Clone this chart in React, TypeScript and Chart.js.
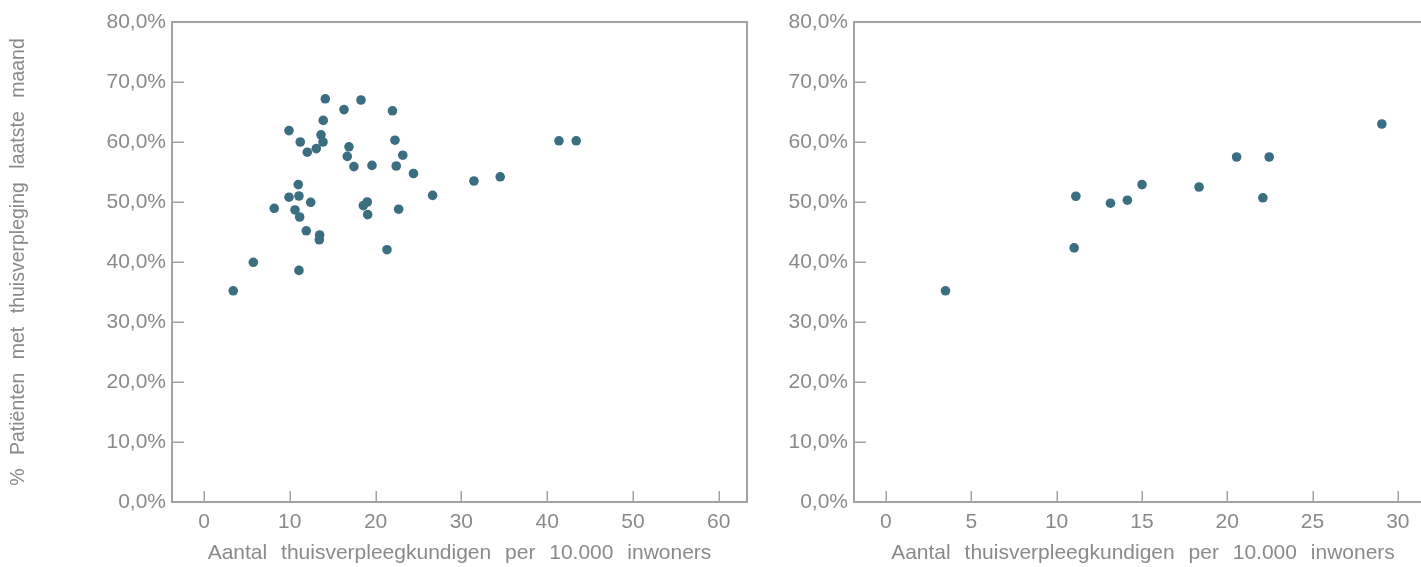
import React, { useEffect, useRef } from "react";
import { Chart, registerables } from "chart.js";

Chart.register(...registerables);

// Left panel: all points
const leftX = [14.14, 18.3, 16.32, 21.97, 13.9, 9.91, 13.64, 11.22, 13.87, 22.26, 12.04, 13.09, 16.9, 16.7, 23.17, 17.48, 19.58, 22.41, 24.42, 10.99, 9.91, 11.07, 12.44, 8.19, 10.61, 11.15, 18.57, 19.03, 19.08, 22.69, 26.65, 11.92, 13.48, 13.44, 21.33, 5.75, 11.07, 3.41, 31.47, 34.53, 41.38, 43.39];
const leftY = [67.2, 67.0, 65.4, 65.2, 63.6, 61.9, 61.2, 60.0, 60.0, 60.3, 58.3, 58.9, 59.2, 57.6, 57.8, 55.9, 56.1, 56.0, 54.75, 52.9, 50.8, 51.0, 49.95, 48.95, 48.67, 47.5, 49.4, 50.0, 47.9, 48.8, 51.1, 45.2, 44.5, 43.7, 42.05, 39.95, 38.6, 35.2, 53.5, 54.2, 60.2, 60.2];

// Right panel
const rightX = [3.49, 11.03, 11.13, 13.16, 14.15, 15.01, 18.35, 20.55, 22.46, 22.09, 29.06];
const rightY = [35.2, 42.35, 50.96, 49.8, 50.3, 52.9, 52.5, 57.5, 57.5, 50.7, 63.0];

const xTicksLeft = [0, 10, 20, 30, 40, 50, 60];
const xTicksRight = [0, 5, 10, 15, 20, 25, 30];
const yTicks = [0, 10, 20, 30, 40, 50, 60, 70, 80];

const xTitle = "Aantal thuisverpleegkundigen per 10.000 inwoners";
const yTitle = "% Patiënten met thuisverpleging laatste maand";

const POINT = "#3b6e81";
const AXIS = "#a3a3a3";
const TEXT = "#8a8a8a";
const FONT = "'Liberation Sans', Arial, sans-serif";

const framePlugin = {
  id: "frame",
  beforeDraw(chart: any) {
    // wider gaps between words, as in the original typesetting
    (chart.ctx as any).wordSpacing = "8px";
  },
  afterDraw(chart: any) {
    const { ctx, chartArea, scales } = chart;
    const { left, right, top, bottom } = chartArea;
    const x = scales.x;
    const y = scales.y;
    ctx.save();
    ctx.strokeStyle = AXIS;
    ctx.lineWidth = 2;
    ctx.beginPath();
    ctx.moveTo(left, top);
    ctx.lineTo(right, top);
    ctx.lineTo(right, bottom);
    ctx.stroke();
    ctx.lineWidth = 1.5;
    ctx.beginPath();
    x.ticks.forEach((t: any) => {
      const px = Math.round(x.getPixelForValue(t.value)) + 0.25;
      ctx.moveTo(px, bottom);
      ctx.lineTo(px, bottom - 11);
    });
    y.ticks.forEach((t: any) => {
      const py = Math.round(y.getPixelForValue(t.value)) + 0.25;
      ctx.moveTo(left, py);
      ctx.lineTo(left + 12, py);
    });
    ctx.stroke();
    ctx.restore();
  },
};

function makeConfig(
  xs: number[],
  ys: number[],
  xTicks: number[],
  xMin: number,
  xMax: number,
  yWidth: number,
  showYTitle: boolean,
  padRight: number
): any {
  return {
    type: "scatter",
    data: {
      datasets: [
        {
          data: xs.map((v, i) => ({ x: v, y: ys[i] })),
          backgroundColor: POINT,
          borderWidth: 0,
          pointRadius: 4.8,
          pointHoverRadius: 4.8,
        },
      ],
    },
    options: {
      responsive: false,
      animation: false,
      layout: { padding: { top: 22, right: padRight, left: 0, bottom: 0 } },
      plugins: { legend: { display: false }, tooltip: { enabled: false } },
      scales: {
        x: {
          type: "linear",
          min: xMin,
          max: xMax,
          afterBuildTicks: (s: any) => {
            s.ticks = xTicks.map((v) => ({ value: v }));
          },
          afterFit: (s: any) => {
            s.height = 65;
          },
          grid: { display: false, drawTicks: false },
          border: { display: true, color: AXIS, width: 2 },
          ticks: {
            color: TEXT,
            font: { family: FONT, size: 21 },
            padding: 8,
            maxRotation: 0,
            autoSkip: false,
          },
          title: {
            display: true,
            text: xTitle,
            color: TEXT,
            font: { family: FONT, size: 21 },
            padding: { top: 0, bottom: 1 },
          },
        },
        y: {
          type: "linear",
          min: 0,
          max: 80,
          afterBuildTicks: (s: any) => {
            s.ticks = yTicks.map((v) => ({ value: v }));
          },
          afterFit: (s: any) => {
            s.width = yWidth;
          },
          grid: { display: false, drawTicks: false },
          border: { display: true, color: AXIS, width: 2 },
          ticks: {
            color: TEXT,
            font: { family: FONT, size: 21 },
            padding: 6,
            autoSkip: false,
            callback: (v: number) => v.toFixed(1).replace(".", ",") + "%",
          },
          title: {
            display: showYTitle,
            text: yTitle,
            color: TEXT,
            font: { family: FONT, size: 19.5 },
            padding: { top: 7, bottom: 0 },
          },
        },
      },
    },
    plugins: [framePlugin],
  };
}

function ScatterPanel(props: {
  xs: number[];
  ys: number[];
  xTicks: number[];
  xMin: number;
  xMax: number;
  yWidth: number;
  showYTitle: boolean;
  width: number;
  padRight: number;
}) {
  const ref = useRef<HTMLCanvasElement | null>(null);
  useEffect(() => {
    if (!ref.current) return;
    const chart = new Chart(
      ref.current,
      makeConfig(props.xs, props.ys, props.xTicks, props.xMin, props.xMax, props.yWidth, props.showYTitle, props.padRight)
    );
    return () => chart.destroy();
  }, []);
  return <canvas ref={ref} width={props.width} height={567} style={{ display: "block" }} />;
}

export default function App() {
  return (
    <div
      style={{
        position: "fixed",
        left: 0,
        top: 0,
        width: 1421,
        height: 567,
        overflow: "hidden",
        background: "#fff",
      }}
    >
      <div style={{ position: "absolute", left: 0, top: 0 }}>
        <ScatterPanel
          xs={leftX}
          ys={leftY}
          xTicks={xTicksLeft}
          xMin={-3.73}
          xMax={63.3}
          yWidth={172}
          showYTitle={true}
          width={760}
          padRight={13}
        />
      </div>
      <div style={{ position: "absolute", left: 760, top: 0 }}>
        <ScatterPanel
          xs={rightX}
          ys={rightY}
          xTicks={xTicksRight}
          xMin={-1.87}
          xMax={32}
          yWidth={94}
          showYTitle={false}
          width={720}
          padRight={48}
        />
      </div>
    </div>
  );
}
